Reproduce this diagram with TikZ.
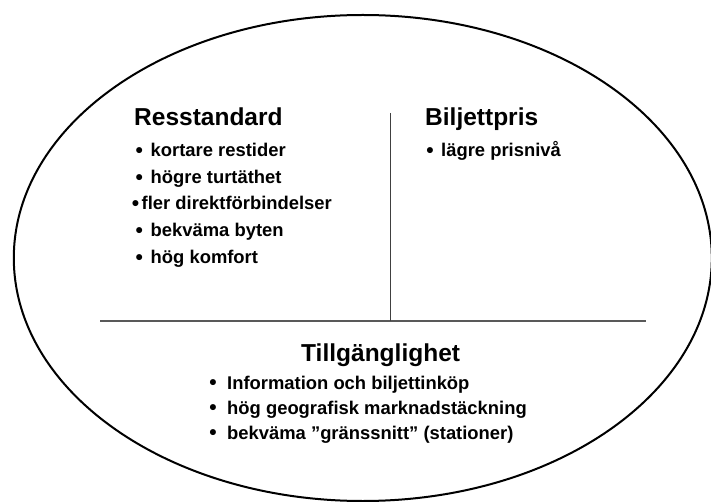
\documentclass[tikz,border=0pt]{standalone}
\usepackage{fontspec}
\setmainfont{Liberation Sans}
\begin{document}
\begin{tikzpicture}[x=1pt,y=-1pt,
  head/.style={inner sep=0pt,anchor=base west,font=\fontsize{24.5}{29}\selectfont\bfseries},
  item/.style={inner sep=0pt,anchor=base west,font=\fontsize{18.4}{22}\selectfont\bfseries},
  bul/.style={inner sep=0pt,anchor=base,yshift=-0.8pt,font=\fontsize{21}{24}\selectfont\bfseries}]
\useasboundingbox (0,0) rectangle (711,502);
\begin{scope}
\clip (0,0) rectangle (711,502);
\draw[line width=2pt] (362.8,258) ellipse [x radius=349, y radius=243];
\end{scope}
\coordinate (hl) at (100,321);
\coordinate (hr) at (646,321);
\coordinate (vt) at (390,113);
\coordinate (vb) at (390,321);
\draw[line width=1.6pt,black!65] (hl) -- (hr);
\draw[line width=1pt,black!75] (vt) -- (vb);

\node[head] (rs) at (134,126) {Resstandard};
\node[bul] (b1) at (139.3,157) {•};
\node[item] (i1) at (150.5,157) {kortare restider};
\node[bul] (b2) at (139.3,183.5) {•};
\node[item] (i2) at (150.5,183.5) {högre turtäthet};
\node[bul] (b3) at (135.5,210) {•};
\node[item] (i3) at (141.5,210) {fler direktförbindelser};
\node[bul] (b4) at (139.3,237) {•};
\node[item] (i4) at (150.5,237) {bekväma byten};
\node[bul] (b5) at (139.3,264) {•};
\node[item] (i5) at (150.5,264) {hög komfort};

\node[head] (bp) at (425,126) {Biljettpris};
\node[bul] (b6) at (430,157) {•};
\node[item] (i6) at (441,157) {lägre prisnivå};

\node[head] (tg) at (301,361) {Tillgänglighet};
\node[bul] (b7) at (213,389) {•};
\node[item] (i7) at (227,389) {Information och biljettinköp};
\node[bul] (b8) at (213,414) {•};
\node[item] (i8) at (227,414) {hög geografisk marknadstäckning};
\node[bul] (b9) at (213,439) {•};
\node[item] (i9) at (227,439) {bekväma ”gränssnitt” (stationer)};
\end{tikzpicture}
\end{document}
